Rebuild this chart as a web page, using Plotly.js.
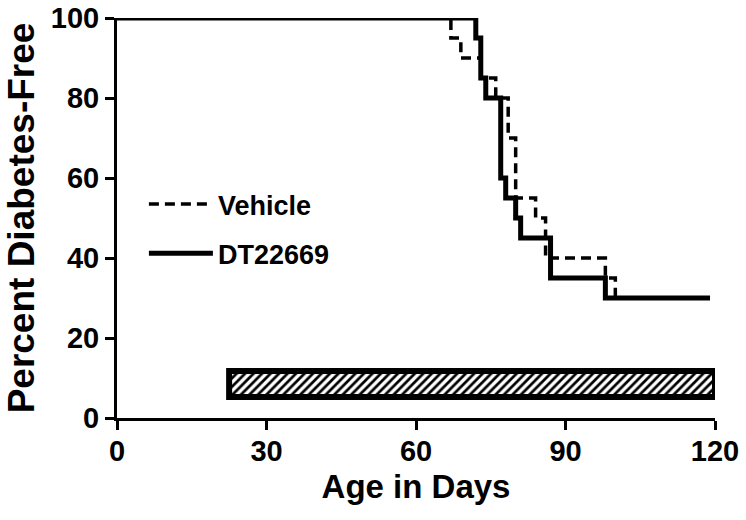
<!DOCTYPE html>
<html>
<head>
<meta charset="utf-8">
<script src="https://cdn.plot.ly/plotly-3.0.1.min.js"></script>
<style>html,body{margin:0;padding:0;background:#fff;}#chart{width:746px;height:520px;}</style>
</head>
<body>
<div id="chart"></div>
<script>
// Kaplan-Meier style step data (age in days, percent diabetes-free)
const vehicleDays = [0, 67, 69, 73, 76, 78.5, 80, 84, 86, 98, 100, 119];
const vehicleFree = [100, 95, 90, 85, 80, 70, 55, 50, 40, 35, 30, 30];
const dtDays = [0, 72, 73, 74, 77, 78, 80, 81, 87, 98, 119];
const dtFree = [100, 95, 85, 80, 60, 55, 50, 45, 35, 30, 30];
// Treatment period bar
const treatStart = [22.5];
const treatEnd = [120];
const treatLevel = [8.5];
const xTicks = [0, 30, 60, 90, 120];
const yTicks = [0, 20, 40, 60, 80, 100];
const seriesNames = ['Vehicle', 'DT22669'];

const FONT = 'Liberation Sans, Arial, Helvetica, sans-serif';

const traces = [
  {
    type: 'bar', orientation: 'h',
    y: treatLevel,
    base: treatStart,
    x: treatEnd.map((e, i) => e - treatStart[i]),
    width: 6.5,
    marker: {
      color: 'white',
      line: {color: 'black', width: 6},
      pattern: {shape: '/', fgcolor: 'black', bgcolor: 'white', size: 6, solidity: 0.45}
    },
    showlegend: false, hoverinfo: 'skip', cliponaxis: false
  },
  {
    type: 'scatter', mode: 'lines', name: seriesNames[0],
    x: vehicleDays, y: vehicleFree,
    line: {shape: 'hv', color: 'black', width: 3.5, dash: '10px,6px'},
    legendgroup: 'a', cliponaxis: false
  },
  {
    type: 'scatter', mode: 'lines', name: seriesNames[1],
    x: dtDays, y: dtFree,
    line: {shape: 'hv', color: 'black', width: 5},
    legendgroup: 'b', cliponaxis: false
  }
];

const layout = {
  width: 746, height: 520,
  margin: {l: 117, r: 31, t: 18, b: 102},
  paper_bgcolor: 'white', plot_bgcolor: 'white',
  font: {family: FONT, color: 'black', weight: 'bold'},
  showlegend: true,
  legend: {
    x: 0.045, y: 0.595, xanchor: 'left', yanchor: 'top',
    font: {family: FONT, size: 27, weight: 'bold', color: 'black'},
    traceorder: 'grouped', tracegroupgap: 11,
    itemwidth: 64,
    bgcolor: 'rgba(0,0,0,0)'
  },
  xaxis: {
    range: [0, 120], tickvals: xTicks, ticktext: xTicks.map(String),
    showline: true, linecolor: 'black', linewidth: 3,
    ticks: 'outside', ticklen: 9, tickwidth: 3, tickcolor: 'black',
    showgrid: false, zeroline: false,
    ticklabelstandoff: -4,
    tickfont: {family: FONT, size: 29, weight: 'bold'},
    title: {text: 'Age in Days', font: {family: FONT, size: 33, weight: 'bold'}, standoff: 10}
  },
  yaxis: {
    range: [0, 100], tickvals: yTicks, ticktext: yTicks.map(String),
    showline: true, linecolor: 'black', linewidth: 3,
    ticks: 'outside', ticklen: 9, tickwidth: 3, tickcolor: 'black',
    showgrid: false, zeroline: false,
    tickfont: {family: FONT, size: 29, weight: 'bold'},
    title: {text: 'Percent Diabetes-Free', font: {family: FONT, size: 37, weight: 'bold'}, standoff: 5}
  }
};

Plotly.newPlot('chart', traces, layout, {staticPlot: true, displayModeBar: false});
</script>
</body>
</html>
